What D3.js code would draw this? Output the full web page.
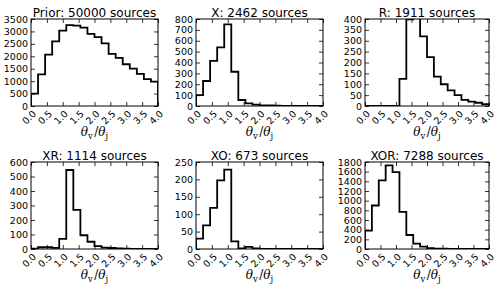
<!DOCTYPE html>
<html>
<head>
<meta charset="utf-8">
<script src="https://cdn.jsdelivr.net/npm/d3@7"></script>
<style>
  body { margin: 0; background: #fff; }
  svg { display: block; }
  .tick text { font-family: "DejaVu Sans", sans-serif; font-size: 9.5px; fill: #000; }
  .tick line { stroke: #000; stroke-width: 0.8; }
</style>
</head>
<body>
<svg id="chart" width="504" height="294"></svg>
<script>
// histogram of theta_v / theta_j, 18 bins over [0, 4]
const xMax = 4;
const nBins = 18;
const xTicks = [0, 0.5, 1, 1.5, 2, 2.5, 3, 3.5, 4];

const titles = ['Prior: 50000 sources', 'X: 2462 sources', 'R: 1911 sources',
                'XR: 1114 sources', 'XO: 673 sources', 'XOR: 7288 sources'];

const priorCounts = [500, 1270, 2070, 2600, 3030, 3250, 3230, 3150, 2900, 2770, 2520, 2100, 1940, 1680, 1500, 1290, 1080, 980];
const xCounts     = [100, 230, 415, 540, 750, 315, 55, 25, 12, 6, 5, 3, 0, 0, 0, 0, 0, 0];
const rCounts     = [0, 0, 0, 0, 0, 125, 398, 415, 320, 225, 135, 100, 72, 50, 28, 20, 15, 8];
const xrCounts    = [3, 12, 12, 8, 70, 545, 270, 95, 50, 20, 10, 7, 4, 3, 0, 0, 0, 0];
const xoCounts    = [30, 68, 118, 197, 228, 22, 2, 6, 2, 0, 0, 0, 0, 0, 0, 0, 0, 0];
const xorCounts   = [380, 900, 1420, 1730, 1590, 770, 290, 110, 50, 20, 8, 5, 3, 2, 0, 0, 0, 0];

const yMaxes = [3500, 800, 400, 600, 250, 1800];
const ySteps = [500, 100, 50, 100, 50, 200];

const allCounts = [priorCounts, xCounts, rCounts, xrCounts, xoCounts, xorCounts];

// panel boxes (plot area) in pixels
const colLeft  = [31, 196, 365];
const colWidth = [127, 127, 124];
const rowTop   = [19, 162];
const plotH    = 87;

const svg = d3.select('#chart');
const edges = d3.range(nBins + 1).map(i => i * xMax / nBins);

allCounts.forEach((counts, i) => {
  const col = i % 3, row = Math.floor(i / 3);
  const W = colWidth[col], H = plotH;
  const g = svg.append('g').attr('transform', `translate(${colLeft[col]},${rowTop[row]})`);

  const x = d3.scaleLinear().domain([0, xMax]).range([0, W]);
  const y = d3.scaleLinear().domain([0, yMaxes[i]]).range([H, 0]);
  const yTicks = d3.range(0, yMaxes[i] + 1, ySteps[i]);

  g.append('clipPath').attr('id', 'clip' + i)
    .append('rect').attr('width', W).attr('height', H);

  // step outline
  const pts = [[edges[0], 0]];
  counts.forEach((c, k) => { pts.push([edges[k], c]); pts.push([edges[k + 1], c]); });
  pts.push([edges[nBins], 0]);
  g.append('path')
    .attr('clip-path', `url(#clip${i})`)
    .attr('d', d3.line().x(d => x(d[0])).y(d => y(d[1]))(pts))
    .attr('fill', 'none')
    .attr('stroke', '#000')
    .attr('stroke-width', 1.8)
    .attr('stroke-linejoin', 'miter');

  // axes, ticks pointing inward on all four sides
  g.append('g').call(d3.axisLeft(y).tickValues(yTicks).tickSize(-4).tickPadding(3).tickFormat(d3.format('d')))
    .call(a => a.select('.domain').remove());
  g.append('g').attr('transform', `translate(${W},0)`)
    .call(d3.axisRight(y).tickValues(yTicks).tickSize(-4).tickFormat(''))
    .call(a => a.select('.domain').remove());
  g.append('g').call(d3.axisTop(x).tickValues(xTicks).tickSize(-4).tickFormat(''))
    .call(a => a.select('.domain').remove());
  const xa = g.append('g').attr('transform', `translate(0,${H})`)
    .call(d3.axisBottom(x).tickValues(xTicks).tickSize(-4).tickFormat(d3.format('.1f')))
    .call(a => a.select('.domain').remove());
  xa.selectAll('text')
    .attr('x', null).attr('y', null).attr('dy', '0.35em')
    .attr('text-anchor', 'end')
    .attr('transform', 'translate(3,6) rotate(-45)');

  g.append('rect').attr('width', W).attr('height', H)
    .attr('fill', 'none').attr('stroke', '#000').attr('stroke-width', 1);

  g.append('text').attr('x', W / 2).attr('y', -2.5)
    .attr('text-anchor', 'middle')
    .style('font-family', '"DejaVu Sans", sans-serif').style('font-size', '12px')
    .text(titles[i]);

  const lab = g.append('text').attr('x', W / 2).attr('y', H + 30)
    .attr('text-anchor', 'middle')
    .style('font-family', '"DejaVu Serif", serif').style('font-size', '12px');
  lab.append('tspan').style('font-style', 'italic').text('θ');
  lab.append('tspan').attr('dy', 3).style('font-size', '8.5px').text('v');
  lab.append('tspan').attr('dy', -3).attr('dx', 1.5).text('/');
  lab.append('tspan').style('font-style', 'italic').text('θ');
  lab.append('tspan').attr('dy', 3).style('font-size', '8.5px').text('j');
});
</script>
</body>
</html>
